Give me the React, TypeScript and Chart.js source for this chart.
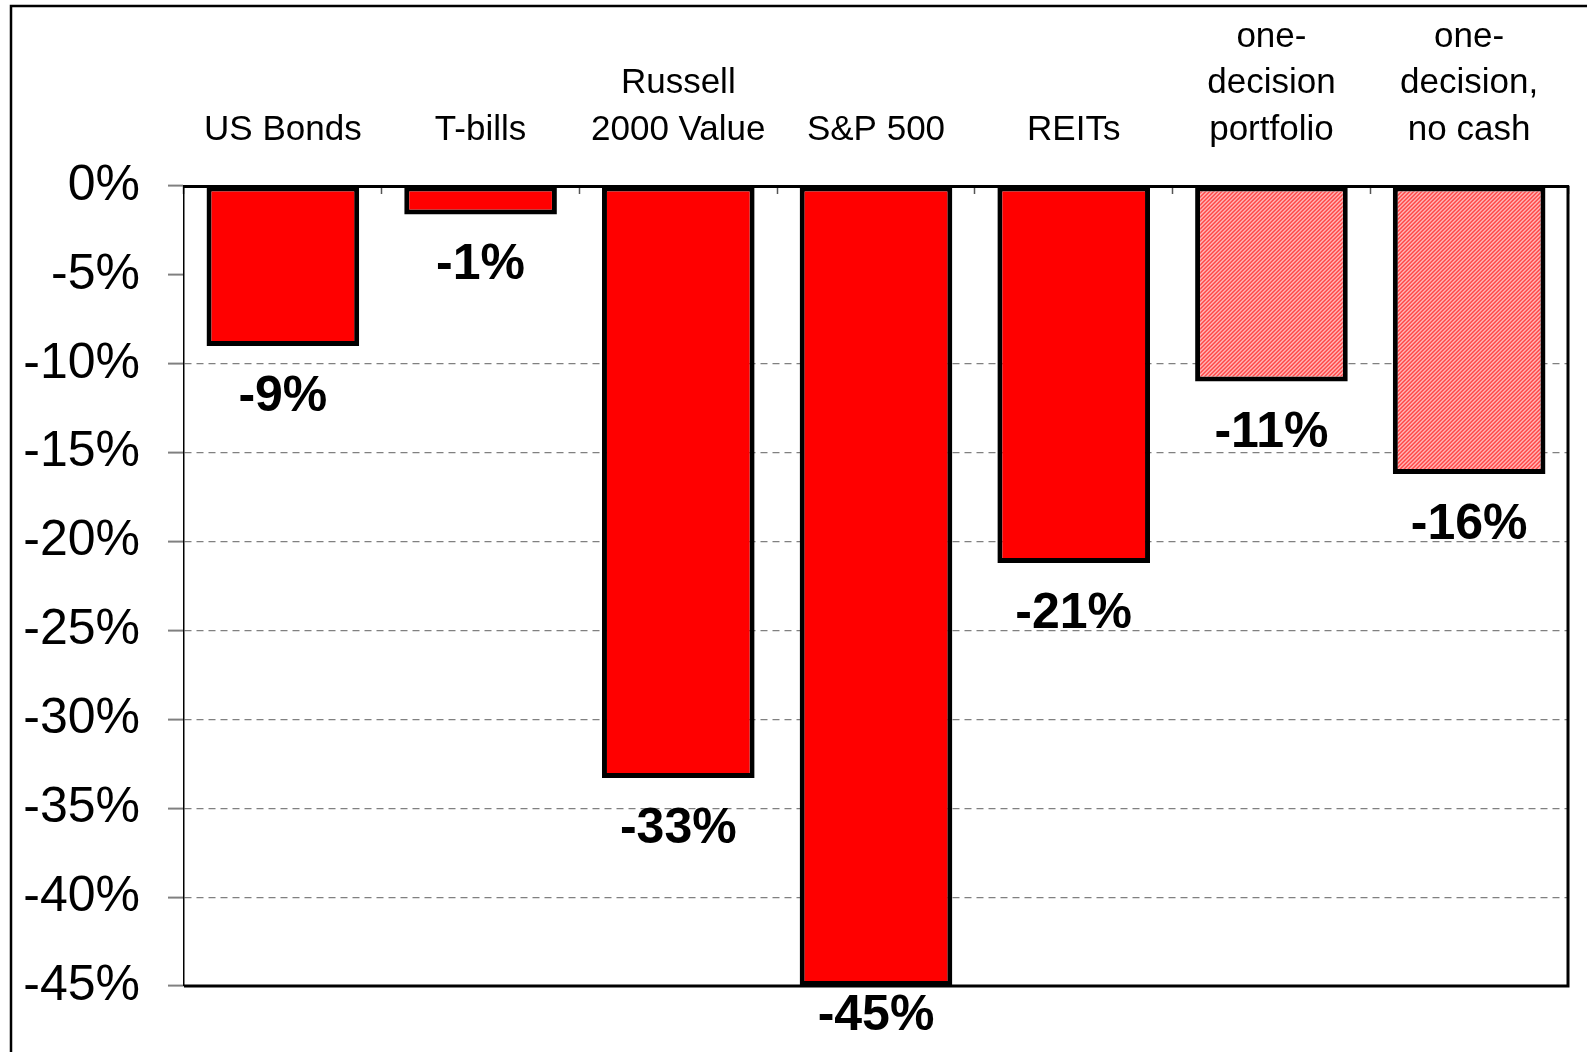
import React, { useEffect, useRef } from "react";
import { Chart, registerables } from "chart.js";

Chart.register(...registerables);

const categories: string[][] = [
  ["US Bonds"],
  ["T-bills"],
  ["Russell", "2000 Value"],
  ["S&P 500"],
  ["REITs"],
  ["one-", "decision", "portfolio"],
  ["one-", "decision,", "no cash"],
];
const values: number[] = [-9.0, -1.6, -33.3, -45.0, -21.2, -11.0, -16.2];
const valueLabels: string[] = ["-9%", "-1%", "-33%", "-45%", "-21%", "-11%", "-16%"];
const hatched: boolean[] = [false, false, false, false, false, true, true];
const yTicks = { min: -45, max: 0, step: 5 };
const hiddenGrid: number[] = [0, -5, -45];

const FONT = "'Liberation Sans', Arial, Helvetica, sans-serif";

function makeHatch(): CanvasPattern | string {
  const c = document.createElement("canvas");
  c.width = 4;
  c.height = 4;
  const g = c.getContext("2d");
  if (!g) return "#F47A7A";
  const cols = ["#FF4848", "#FF6A6A", "#FFB4B4", "#FF9090"];
  for (let y = 0; y < 4; y++) {
    for (let x = 0; x < 4; x++) {
      g.fillStyle = cols[(x + y) % 4];
      g.fillRect(x, y, 1, 1);
    }
  }
  const p = g.createPattern(c, "repeat");
  return p || "#F47A7A";
}

export default function App() {
  const ref = useRef<HTMLCanvasElement>(null);

  useEffect(() => {
    if (!ref.current) return;
    const hatch = makeHatch();

    const framePlugin = {
      id: "framePlugin",
      afterDraw(chart: any) {
        const { ctx, chartArea } = chart;
        ctx.save();
        // outer frame (left & top visible)
        ctx.strokeStyle = "#000";
        ctx.lineWidth = 2.5;
        ctx.beginPath();
        ctx.moveTo(11, 1052 + 10);
        ctx.lineTo(11, 6);
        ctx.lineTo(1587 + 10, 6);
        ctx.stroke();
        // right and bottom plot borders
        ctx.lineWidth = 3;
        ctx.beginPath();
        ctx.moveTo(chartArea.right, chartArea.top);
        ctx.lineTo(chartArea.right, chartArea.bottom);
        ctx.lineTo(chartArea.left, chartArea.bottom);
        ctx.stroke();

        // category labels above plot
        const xs = chart.scales.x;
        ctx.fillStyle = "#000";
        ctx.font = `35px ${FONT}`;
        ctx.textAlign = "center";
        ctx.textBaseline = "alphabetic";
        const lineH = 46.7;
        const baseBottom = 140;
        categories.forEach((lines, i) => {
          const x = xs.getPixelForValue(i);
          const n = lines.length;
          lines.forEach((t, j) => {
            ctx.fillText(t, x, baseBottom - (n - 1 - j) * lineH);
          });
        });

        // value labels
        const meta = chart.getDatasetMeta(0);
        ctx.font = `bold 50px ${FONT}`;
        meta.data.forEach((el: any, i: number) => {
          const y = Math.min(el.y + 65, 1030);
          ctx.fillText(valueLabels[i], el.x, y);
        });
        ctx.restore();
      },
    };

    const chart = new Chart(ref.current, {
      type: "bar",
      data: {
        labels: categories,
        datasets: [
          {
            data: values,
            backgroundColor: hatched.map((h) => (h ? hatch : "#FF0000")) as any,
            borderColor: "#000000",
            borderWidth: 5,
            borderSkipped: false,
            barPercentage: 0.772,
            categoryPercentage: 1,
          },
        ],
      },
      options: {
        animation: false,
        responsive: false,
        devicePixelRatio: 1,
        layout: { padding: { left: 0, top: 0, right: 19, bottom: 66 } },
        plugins: {
          legend: { display: false },
          tooltip: { enabled: false },
        },
        scales: {
          x: {
            position: "top",
            offset: true,
            ticks: { display: false },
            grid: {
              display: true,
              offset: true,
              drawOnChartArea: false,
              drawTicks: true,
              tickLength: -8,
              color: "#555555",
              tickWidth: 1.5,
            },
            border: { display: true, color: "#000000", width: 3 },
            afterFit: (s: any) => {
              s.height = 186;
            },
          },
          y: {
            min: yTicks.min,
            max: yTicks.max,
            ticks: {
              stepSize: yTicks.step,
              color: "#000",
              padding: 28,
              font: { family: FONT, size: 50 },
              callback: (v: any) => `${v}%`,
            },
            grid: {
              color: (c: any) =>
                c.tick && hiddenGrid.includes(c.tick.value) ? "rgba(0,0,0,0)" : "#808080",
              lineWidth: 1.2,
              tickColor: "#808080",
              tickWidth: 2,
              tickLength: 16,
              tickBorderDash: [],
            },
            border: { display: true, color: "#000000", width: 1.5, dash: [7, 5] },
            afterFit: (s: any) => {
              s.width = 184;
            },
          },
        },
      },
      plugins: [framePlugin],
    });

    return () => chart.destroy();
  }, []);

  return (
    <div
      style={{
        position: "fixed",
        left: 0,
        top: 0,
        width: 1587,
        height: 1052,
        overflow: "hidden",
        background: "#fff",
      }}
    >
      <canvas ref={ref} width={1587} height={1052} style={{ display: "block" }} />
    </div>
  );
}
